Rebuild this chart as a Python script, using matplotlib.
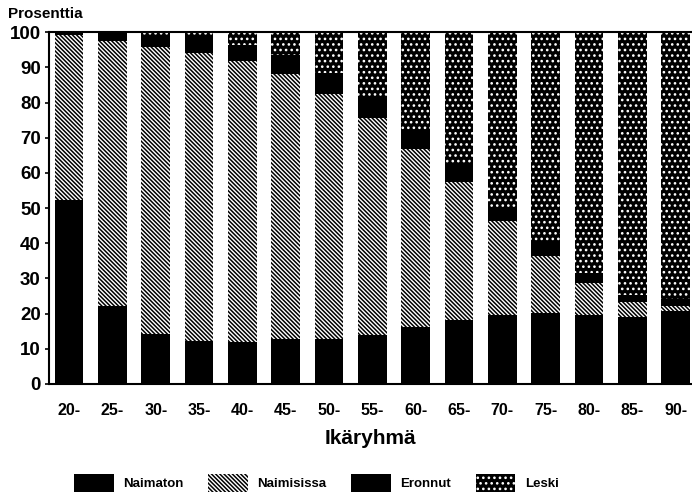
import matplotlib
matplotlib.use("Agg")
import matplotlib.pyplot as plt
import numpy as np
from matplotlib.patches import Patch

plt.rcParams['font.family'] = ['Liberation Sans', 'DejaVu Sans']
plt.rcParams['font.weight'] = 'bold'
plt.rcParams['hatch.linewidth'] = 1.1

age_groups = ["20-", "25-", "30-", "35-", "40-", "45-", "50-", "55-", "60-",
              "65-", "70-", "75-", "80-", "85-", "90-"]
naimaton   = [52.3, 22.2, 14.1, 12.2, 12.0, 12.7, 12.7, 13.9, 16.3, 18.2, 19.6, 20.1, 19.6, 19.1, 20.8]
naimisissa = [46.8, 75.2, 81.7, 81.9, 79.8, 75.5, 69.6, 61.7, 50.6, 39.3, 26.8, 16.3, 9.0, 4.3, 1.4]
eronnut    = [0.9, 2.6, 3.2, 4.6, 4.5, 5.3, 6.2, 6.0, 5.4, 4.7, 3.5, 3.6, 2.8, 1.9, 1.9]
leski      = [0.0, 0.0, 1.0, 1.3, 3.7, 6.5, 11.5, 18.4, 27.7, 37.8, 50.1, 60.0, 68.6, 74.7, 75.9]

series_names = ["Naimaton", "Naimisissa", "Eronnut", "Leski"]

HATCH_N = '\\\\\\\\\\\\\\\\'
HATCH_L = '...'

fig = plt.figure(figsize=(6.92, 4.96), dpi=100)
ax = fig.add_axes([0.071, 0.226, 0.928, 0.709])

x = np.arange(len(age_groups))
w = 0.66
b1 = np.array(naimaton)
b2 = b1 + np.array(naimisissa)
b3 = b2 + np.array(eronnut)

ax.bar(x, naimaton, w, color='black', linewidth=0)
ax.bar(x, naimisissa, w, bottom=b1, facecolor='white', edgecolor='black',
       hatch=HATCH_N, linewidth=0)
ax.bar(x, eronnut, w, bottom=b2, color='black', linewidth=0)
ax.bar(x, leski, w, bottom=b3, facecolor='black', edgecolor='white',
       hatch=HATCH_L, linewidth=0)

ax.set_xlim(-0.46, 14.36)
ax.set_ylim(0, 100)
ax.set_yticks(np.arange(0, 101, 10))
ax.set_xticks(x)
ax.set_xticklabels(age_groups, fontsize=11.5, fontweight='bold')
ax.tick_params(axis='y', labelsize=13.5, direction='out', length=3, width=1.2, pad=3)
ax.tick_params(axis='x', length=0, pad=14)
for lab in ax.get_yticklabels():
    lab.set_fontweight('bold')
for s in ['left', 'bottom', 'top']:
    ax.spines[s].set_linewidth(1.5)
ax.spines['right'].set_visible(False)

ax.set_xlabel("Ikäryhmä", fontsize=15, fontweight='bold', labelpad=8)
fig.text(0.012, 0.972, "Prosenttia", fontsize=11, fontweight='bold', ha='left', va='center')

handles = [
    Patch(facecolor='black', linewidth=0),
    Patch(facecolor='white', edgecolor='black', hatch=HATCH_N, linewidth=0),
    Patch(facecolor='black', linewidth=0),
    Patch(facecolor='black', edgecolor='white', hatch=HATCH_L, linewidth=0),
]
leg = fig.legend(handles, series_names, loc='center', bbox_to_anchor=(0.457, 0.026),
                 ncol=4, frameon=False, fontsize=9.5, handlelength=3.0, handleheight=1.8,
                 columnspacing=1.9, handletextpad=0.7)

fig.savefig("out.png", dpi=100)
